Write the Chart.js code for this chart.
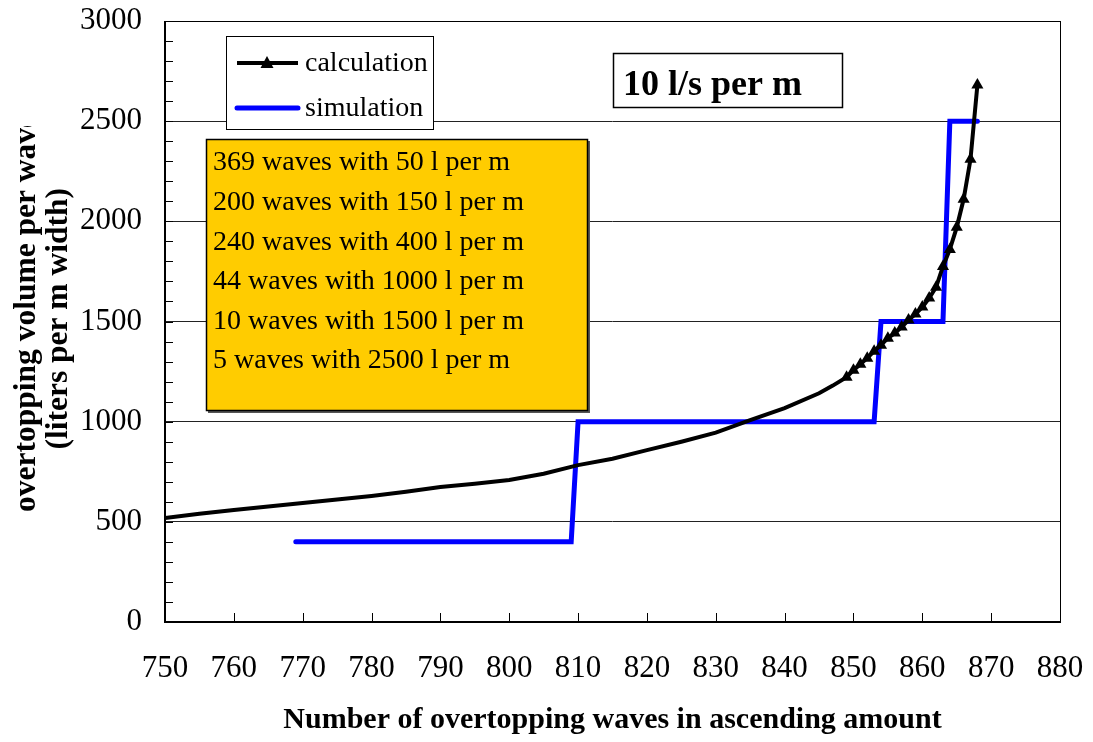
<!DOCTYPE html>
<html>
<head>
<meta charset="utf-8">
<script src="https://cdn.jsdelivr.net/npm/chart.js@4.4.1/dist/chart.umd.min.js"></script>
<style>
  html, body { margin: 0; padding: 0; background: #fff; }
  #wrap { width: 1093px; height: 742px; position: relative; }
</style>
</head>
<body>
<div id="wrap"><canvas id="chart"></canvas></div>
<script>
// calculation curve
const calcX = [750, 755, 760, 765, 770, 775, 780, 785, 790, 795, 800, 805, 810, 815, 820, 825, 830, 835, 840, 845, 847,
  849, 850, 851, 852, 853, 854, 855, 856, 857, 858, 859, 860, 861, 862, 863, 864, 865, 866, 867, 868];
const calcY = [519, 540, 559, 577, 594, 611, 629, 650, 674, 690, 709, 740, 783, 815, 858, 900, 945, 1008, 1068, 1142, 1180,
  1222, 1257, 1287, 1317, 1352, 1382, 1417, 1442, 1472, 1507, 1537, 1572, 1617, 1671, 1775, 1860, 1970, 2110, 2310, 2680];
const markerFrom = 849;

// simulation steps
const simX = [769, 809, 810, 853, 854, 863, 864, 868];
const simY = [400, 400, 1000, 1000, 1500, 1500, 2500, 2500];

const seriesNames = ['calculation', 'simulation'];
const boxLines = [
  '369 waves with 50 l per m',
  '200 waves with 150 l per m',
  '240 waves with 400 l per m',
  '44 waves with 1000 l per m',
  '10 waves with 1500 l per m',
  '5 waves with 2500 l per m'
];
const caseLabel = '10 l/s per m';
const xTitle = 'Number of overtopping waves in ascending amount';
const yTitle = ['overtopping volume per wave', '(liters per m width)'];

const serif = '"Liberation Serif", "Times New Roman", serif';

const frame = {
  id: 'frame',
  beforeDatasetsDraw(chart) {
    const ctx = chart.ctx, a = chart.chartArea;
    const x = chart.scales.x, y = chart.scales.y;
    ctx.save();
    ctx.strokeStyle = '#000';
    // minor ticks on y (inside)
    ctx.lineWidth = 1;
    for (let v = 100; v < 3000; v += 100) {
      const py = Math.round(y.getPixelForValue(v)) + 0.5;
      ctx.beginPath(); ctx.moveTo(a.left, py); ctx.lineTo(a.left + 8, py); ctx.stroke();
    }
    // x ticks (inside)
    for (let v = 760; v < 880; v += 10) {
      const px = Math.round(x.getPixelForValue(v)) + 0.5;
      ctx.beginPath(); ctx.moveTo(px, a.bottom); ctx.lineTo(px, a.bottom - 9); ctx.stroke();
    }
    // border
    ctx.strokeRect(a.left + 0.5, a.top + 0.5, a.right - a.left, a.bottom - a.top);
    ctx.lineWidth = 2;
    ctx.beginPath();
    ctx.moveTo(a.left, a.top); ctx.lineTo(a.left, a.bottom); ctx.lineTo(a.right, a.bottom);
    ctx.stroke();
    ctx.restore();
  },
  afterDraw(chart) {
    const ctx = chart.ctx;
    ctx.save();
    // legend box
    ctx.fillStyle = '#fff';
    ctx.fillRect(226, 36, 207, 93);
    ctx.strokeStyle = '#000';
    ctx.lineWidth = 1;
    ctx.strokeRect(226.5, 36.5, 207, 93);
    const ds = chart.data.datasets;
    const rows = [63, 108];
    ctx.font = '28px ' + serif;
    ctx.textBaseline = 'middle';
    ds.forEach((d, i) => {
      const yy = rows[i];
      ctx.strokeStyle = d.borderColor;
      ctx.lineWidth = d.borderWidth;
      ctx.lineCap = i === 1 ? 'round' : 'butt';
      ctx.beginPath(); ctx.moveTo(237, yy); ctx.lineTo(298, yy); ctx.stroke();
      if (i === 0) {
        ctx.fillStyle = '#000';
        ctx.beginPath(); ctx.moveTo(267, yy - 7); ctx.lineTo(273.5, yy + 5); ctx.lineTo(260.5, yy + 5); ctx.closePath(); ctx.fill();
      }
      ctx.fillStyle = '#000';
      ctx.fillText(d.label, 305, yy + 1);
    });
    // case label box
    ctx.fillStyle = '#fff';
    ctx.fillRect(613, 53, 229, 54);
    ctx.strokeStyle = '#000';
    ctx.lineWidth = 1.5;
    ctx.strokeRect(613.5, 53.5, 229, 54);
    ctx.fillStyle = '#000';
    ctx.font = 'bold 36px ' + serif;
    ctx.textBaseline = 'alphabetic';
    ctx.fillText(caseLabel, 623, 95);
    // yellow info box
    ctx.fillStyle = '#555';
    ctx.fillRect(208, 141, 382, 272);
    ctx.fillStyle = '#FFCC00';
    ctx.fillRect(206, 139, 382, 272);
    ctx.strokeStyle = '#000';
    ctx.lineWidth = 1.5;
    ctx.strokeRect(206.5, 139.5, 381, 271);
    ctx.fillStyle = '#000';
    ctx.font = '28px ' + serif;
    ctx.textBaseline = 'middle';
    boxLines.forEach((t, i) => ctx.fillText(t, 213, 163 + i * 39.6));
    // y axis title, two rotated lines
    ctx.save();
    ctx.beginPath(); ctx.rect(0, 126, 120, 616); ctx.clip();
    ctx.font = 'bold 31.5px ' + serif;
    ctx.textBaseline = 'alphabetic';
    ctx.translate(35, 512);
    ctx.rotate(-Math.PI / 2);
    ctx.textAlign = 'left';
    ctx.fillText(yTitle[0], 0, 0);
    ctx.restore();
    ctx.save();
    ctx.font = 'bold 31.5px ' + serif;
    ctx.textBaseline = 'alphabetic';
    ctx.translate(67, 188);
    ctx.rotate(-Math.PI / 2);
    ctx.textAlign = 'right';
    ctx.fillText(yTitle[1], 0, 0);
    ctx.restore();
    ctx.restore();
  }
};

new Chart(document.getElementById('chart'), {
  type: 'scatter',
  data: {
    datasets: [
      {
        label: seriesNames[0],
        data: calcX.map((x, i) => ({ x: x, y: calcY[i] })),
        showLine: true,
        borderColor: '#000',
        backgroundColor: '#000',
        borderWidth: 4,
        tension: 0,
        pointStyle: 'triangle',
        pointRadius: calcX.map(x => x >= markerFrom ? 7 : 0),
        pointBorderWidth: 0,
        order: 1
      },
      {
        label: seriesNames[1],
        data: simX.map((x, i) => ({ x: x, y: simY[i] })),
        showLine: true,
        borderColor: '#0000FF',
        backgroundColor: '#0000FF',
        borderWidth: 5,
        borderCapStyle: 'round',
        tension: 0,
        pointRadius: 0,
        order: 2
      }
    ]
  },
  options: {
    responsive: true,
    maintainAspectRatio: false,
    animation: false,
    layout: { padding: { left: 0, right: 33, top: 21, bottom: 0 } },
    plugins: { legend: { display: false }, tooltip: { enabled: false } },
    scales: {
      x: {
        type: 'linear', min: 750, max: 880,
        ticks: { stepSize: 10, color: '#000', font: { family: serif, size: 31 }, padding: 28, maxRotation: 0 },
        grid: { display: false, drawTicks: false },
        border: { display: false },
        title: { display: true, text: xTitle, color: '#000', font: { family: serif, size: 30, weight: 'bold' }, padding: { top: 20 } },
        afterFit(s) { s.height = 120; s.paddingLeft = 0; s.paddingRight = 0; }
      },
      y: {
        type: 'linear', min: 0, max: 3000,
        ticks: { stepSize: 500, color: '#000', font: { family: serif, size: 31 }, padding: 23, callback: v => String(v) },
        grid: { color: '#222', lineWidth: 1, drawTicks: false },
        border: { display: false },
        afterFit(s) { s.width = 165; s.paddingTop = 0; s.paddingBottom = 0; }
      }
    }
  },
  plugins: [frame]
});
</script>
</body>
</html>
